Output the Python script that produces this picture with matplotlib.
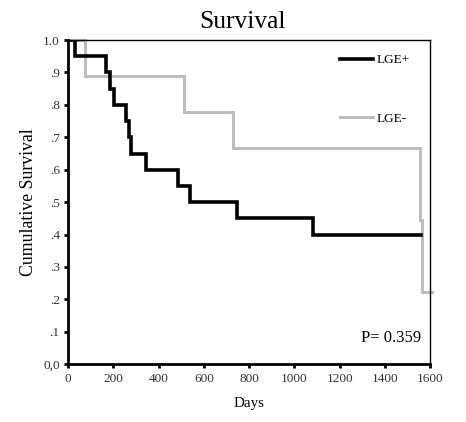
import matplotlib
matplotlib.use("Agg")
import matplotlib.pyplot as plt

# Data (Kaplan-Meier step curves)
lge_pos_days = [0, 30, 167, 186, 205, 258, 268, 278, 344, 488, 540, 748, 1083, 1560]
lge_pos_surv = [1.0, 0.95, 0.90, 0.85, 0.80, 0.75, 0.70, 0.65, 0.60, 0.55, 0.50, 0.45, 0.40, 0.40]
lge_neg_days = [0, 75, 512, 727, 1557, 1563, 1607]
lge_neg_surv = [1.0, 0.889, 0.778, 0.667, 0.444, 0.222, 0.222]

x_ticks = [0, 200, 400, 600, 800, 1000, 1200, 1400, 1600]
y_ticks = [0.0, 0.1, 0.2, 0.3, 0.4, 0.5, 0.6, 0.7, 0.8, 0.9, 1.0]
y_tick_labels = ["0,0", ".1", ".2", ".3", ".4", ".5", ".6", ".7", ".8", ".9", "1.0"]

plt.rcParams['font.family'] = ['Liberation Serif', 'DejaVu Serif']

fig = plt.figure(figsize=(4.66, 4.22), dpi=100)
ax = fig.add_axes([0.146, 0.137, 0.777, 0.768])

gray = '#bdbdbd'
ax.step(lge_pos_days, lge_pos_surv, where='post', color='black', lw=2.6,
        label='LGE+', zorder=3, solid_joinstyle='miter')
ax.step(lge_neg_days, lge_neg_surv, where='post', color=gray, lw=2.2,
        label='LGE-', zorder=2, clip_on=False, solid_joinstyle='miter')

ax.set_xlim(0, 1600)
ax.set_ylim(0, 1.0)
ax.set_xticks(x_ticks)
ax.set_yticks(y_ticks)
ax.set_yticklabels(y_tick_labels)
ax.tick_params(axis='both', direction='out', length=3, width=2, labelsize=9.5,
               labelcolor='#333333', pad=3)

for s in ['top', 'right']:
    ax.spines[s].set_linewidth(1.0)
for s in ['left', 'bottom']:
    ax.spines[s].set_linewidth(2.0)

ax.set_title('Survival', fontsize=18.4, pad=8.6, x=0.482)
ax.set_ylabel('Cumulative Survival', fontsize=12.8, labelpad=4)
ax.set_xlabel('Days', fontsize=10.8, labelpad=9)

leg = ax.legend(loc='upper right', bbox_to_anchor=(0.959, 0.973), frameon=False,
                fontsize=9.5, handlelength=2.5, handletextpad=0.3,
                labelspacing=3.5, borderaxespad=0.0)

ax.text(0.975, 0.08, 'P= 0.359', transform=ax.transAxes, ha='right', va='center',
        fontsize=12)

fig.savefig('out.png', dpi=100)
